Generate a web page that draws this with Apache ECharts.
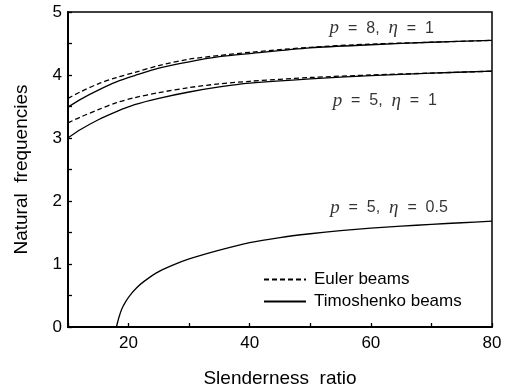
<!DOCTYPE html>
<html>
<head>
<meta charset="utf-8">
<script src="https://cdn.jsdelivr.net/npm/echarts@6/dist/echarts.min.js"></script>
<style>
  html, body { margin: 0; padding: 0; background: #fff; }
  #chart { width: 512px; height: 386px; }
</style>
</head>
<body>
<div id="chart"></div>
<script>
// Slenderness ratios sampled for the η = 1 curves
const slenderness = [10, 12, 15, 18, 21, 25, 30, 35, 40, 50, 60, 70, 80];
// p = 8, η = 1
const eulerP8 = [3.63, 3.73, 3.86, 3.96, 4.04, 4.15, 4.25, 4.31, 4.36, 4.44, 4.49, 4.52, 4.55];
const timoP8  = [3.49, 3.61, 3.76, 3.89, 3.99, 4.11, 4.21, 4.29, 4.34, 4.43, 4.48, 4.52, 4.55];
// p = 5, η = 1
const eulerP5 = [3.24, 3.33, 3.45, 3.56, 3.64, 3.72, 3.80, 3.86, 3.90, 3.96, 4.00, 4.03, 4.06];
const timoP5  = [3.00, 3.13, 3.29, 3.42, 3.53, 3.63, 3.73, 3.81, 3.87, 3.94, 3.99, 4.03, 4.06];
// p = 5, η = 0.5 (Euler and Timoshenko coincide)
const slendernessHalf = [18, 18.4, 18.9, 19.5, 20.3, 21.3, 22.5, 24.6, 27, 30, 35, 40, 45, 50, 55, 60, 65, 70, 75, 80];
const freqHalf = [0, 0.15, 0.29, 0.40, 0.51, 0.62, 0.72, 0.86, 0.97, 1.08, 1.22, 1.34, 1.42, 1.48, 1.53, 1.57, 1.60, 1.63, 1.655, 1.68];

const xTickLabels = ['20', '40', '60', '80'];
const yTickLabels = ['0', '1', '2', '3', '4', '5'];

// Curve annotations: [x, y, p, η]
const curveNotes = [
  [61.8, 4.74, '8', '1'],
  [62.3, 3.59, '5', '1'],
  [63.0, 1.89, '5', '0.5']
];

const sans = 'Liberation Sans, Arial, Helvetica, sans-serif';
const serif = 'Liberation Serif, Times New Roman, serif';

const pairs = (xs, ys) => xs.map((x, i) => [x, ys[i]]);

function curve(name, xs, ys, dashed) {
  return {
    name: name,
    type: 'line',
    data: pairs(xs, ys),
    smooth: 0.3,
    symbol: 'none',
    silent: true,
    lineStyle: { color: '#000', width: 1.3, type: dashed ? [5, 3] : 'solid' },
    itemStyle: { color: '#000' }
  };
}

const chart = echarts.init(document.getElementById('chart'), null, { renderer: 'canvas' });

chart.setOption({
  animation: false,
  backgroundColor: '#fff',
  grid: {
    left: 68, right: 20, top: 12, bottom: 59,
    outerBoundsMode: 'none',
    containLabel: false,
    show: true, borderColor: '#000', borderWidth: 1.5, backgroundColor: 'transparent'
  },
  xAxis: {
    type: 'value', min: 10, max: 80, interval: 10,
    name: 'Slenderness  ratio', nameLocation: 'middle', nameGap: 42,
    nameTextStyle: { fontFamily: sans, fontSize: 19, color: '#000' },
    axisLine: { lineStyle: { color: '#000', width: 2 } },
    axisTick: { inside: true, length: 4, lineStyle: { color: '#000', width: 1.3 } },
    axisLabel: {
      margin: 8, fontFamily: sans, fontSize: 17, color: '#000',
      formatter: v => xTickLabels.includes(String(v)) ? String(v) : ''
    },
    splitLine: { show: false }
  },
  yAxis: {
    type: 'value', min: 0, max: 5, interval: 0.5,
    name: 'Natural  frequencies', nameLocation: 'middle', nameGap: 37,
    nameTextStyle: { fontFamily: sans, fontSize: 19, color: '#000' },
    axisLine: { lineStyle: { color: '#000', width: 2 } },
    axisTick: { inside: true, length: 4, lineStyle: { color: '#000', width: 1.3 } },
    axisLabel: {
      margin: 6, fontFamily: sans, fontSize: 17, color: '#000',
      formatter: v => yTickLabels.includes(String(v)) ? String(v) : ''
    },
    splitLine: { show: false }
  },
  legend: {
    orient: 'vertical', left: 258, top: 266, itemGap: 5,
    itemWidth: 42, itemHeight: 14,
    data: ['Euler beams', 'Timoshenko beams'],
    itemStyle: { opacity: 0 },
    textStyle: { fontFamily: sans, fontSize: 17, color: '#000', padding: [0, 0, 0, 3] },
    selectedMode: false
  },
  series: [
    curve('Euler beams', slenderness, eulerP8, true),
    curve('Timoshenko beams', slenderness, timoP8, false),
    curve('Euler beams', slenderness, eulerP5, true),
    curve('Timoshenko beams', slenderness, timoP5, false),
    curve('Timoshenko beams', slendernessHalf, freqHalf, false),
    {
      type: 'scatter',
      silent: true,
      symbolSize: 0,
      data: curveNotes.map(n => ({ value: [n[0], n[1]], p: n[2], eta: n[3] })),
      label: {
        show: true, position: 'inside', color: '#000',
        formatter: params => '{i|p}{t|  =  ' + params.data.p + ',  }{i|η}{t|  =  ' + params.data.eta + '}',
        rich: {
          i: { fontFamily: serif, fontStyle: 'italic', fontSize: 19, color: '#000' },
          t: { fontFamily: sans, fontSize: 16, color: '#000' }
        }
      }
    }
  ]
});
</script>
</body>
</html>
